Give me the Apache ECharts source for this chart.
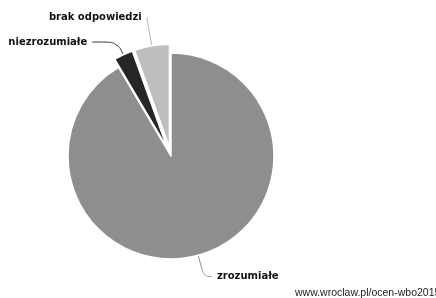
<!DOCTYPE html>
<html>
<head>
<meta charset="utf-8">
<script src="https://cdn.jsdelivr.net/npm/echarts@6/dist/echarts.min.js"></script>
<style>
  html, body { margin: 0; padding: 0; background: #fff; }
  #chart { width: 436px; height: 298px; }
</style>
</head>
<body>
<div id="chart"></div>
<script>
  var categories = ['zrozumiałe', 'niezrozumiałe', 'brak odpowiedzi'];
  var values = [91.5, 3, 5.5];
  var colors = ['#8e8e8e', '#262626', '#bebebe'];
  var lineColors = ['#8a8a8a', '#333333', '#b5b5b5'];
  var exploded = [false, true, true];
  var lineLen = [22, 14, 29];
  var lineLen2 = [8, 25, 0];

  var chart = echarts.init(document.getElementById('chart'));

  var data = categories.map(function (name, i) {
    return {
      name: name,
      value: values[i],
      selected: exploded[i],
      itemStyle: { color: colors[i] },
      labelLine: {
        length: lineLen[i],
        length2: lineLen2[i],
        lineStyle: { color: lineColors[i] }
      }
    };
  });

  var option = {
    animation: false,
    graphic: [{
      type: 'text',
      left: 295,
      top: 288,
      style: {
        text: 'www.wroclaw.pl/ocen-wbo2015',
        font: '10.5px "Liberation Sans", sans-serif',
        fill: '#222'
      }
    }],
    series: [{
      type: 'pie',
      center: [171, 156],
      radius: [0, 103],
      startAngle: 90,
      clockwise: true,
      selectedMode: 'multiple',
      selectedOffset: 9,
      data: data,
      itemStyle: { borderColor: '#fff', borderWidth: 1.5 },
      emphasis: { disabled: true },
      label: {
        show: true,
        position: 'outside',
        formatter: '{b}',
        fontFamily: 'DejaVu Sans',
        fontWeight: 'bold',
        fontSize: 10,
        color: '#111'
      },
      labelLine: {
        show: true,
        smooth: 0.4,
        lineStyle: { width: 1 }
      }
    }]
  };

  chart.setOption(option);
</script>
</body>
</html>
